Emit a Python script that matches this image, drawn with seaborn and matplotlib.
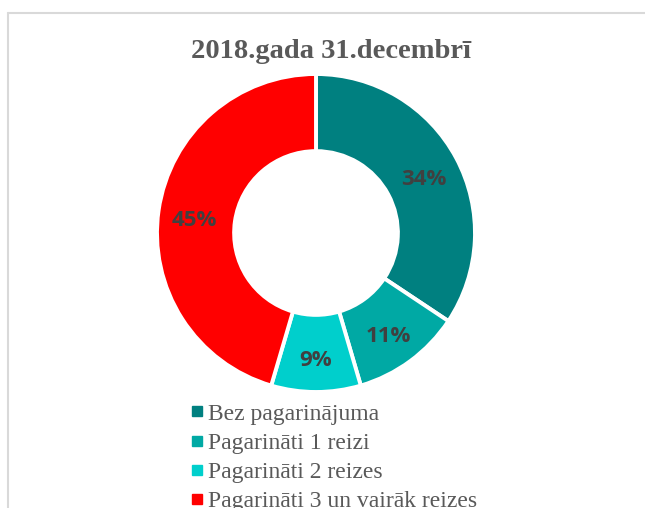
import numpy as np
import matplotlib
matplotlib.use("Agg")
import matplotlib.pyplot as plt
from matplotlib.lines import Line2D
import seaborn as sns

# Loan extension breakdown as of 31 December 2018
categories = [
    "Bez pagarinājuma",
    "Pagarināti 1 reizi",
    "Pagarināti 2 reizes",
    "Pagarināti 3 un vairāk reizes",
]
shares = [34, 11, 9, 45]
colors = ["#008080", "#00A9A4", "#00CFCC", "#FF0000"]
title = "2018.gada 31.decembrī"

sns.set_theme(style="white")
plt.rcParams["font.family"] = ["DejaVu Sans"]

W, H = 645, 508
fig = plt.figure(figsize=(W / 100, H / 100), dpi=100)
fig.patch.set_facecolor("white")

# chart frame (top and left edges visible)
frame_x = 8 / W
frame_y = 1 - 13 / H
fig.add_artist(Line2D([frame_x, 1.0], [frame_y, frame_y], transform=fig.transFigure,
                      color="#D9D9D9", lw=1.5))
fig.add_artist(Line2D([frame_x, frame_x], [0, frame_y], transform=fig.transFigure,
                      color="#D9D9D9", lw=1.5))

# donut axes: centre (316, 233), radius ~159 px
cx, cy, r = 316, 233, 159
ax = fig.add_axes([(cx - r) / W, 1 - (cy + r) / H, 2 * r / W, 2 * r / H])
inner = 0.515
wedges, _ = ax.pie(
    shares,
    colors=colors,
    startangle=90,
    counterclock=False,
    radius=1.0,
    wedgeprops=dict(width=1 - inner, edgecolor="white", linewidth=2.8),
)
ax.set_xlim(-1, 1)
ax.set_ylim(-1, 1)
ax.set_aspect("equal")
ax.axis("off")

# percentage labels in the middle of each ring segment
mid_r = (1 + inner) / 2 + 0.015
drop = 5 / r
for w, v in zip(wedges, shares):
    ang = np.deg2rad((w.theta1 + w.theta2) / 2)
    ax.text(mid_r * np.cos(ang), mid_r * np.sin(ang) - drop, f"{v}%",
            ha="center", va="center", fontsize=16, fontweight="bold",
            color="#404040", family=["Open Sans", "DejaVu Sans"])

fig.text(331 / W, 1 - 52 / H, title, ha="center", va="center",
         fontsize=20.5, fontweight="bold", color="#595959",
         family=["Liberation Serif", "DejaVu Serif"])

handles = [Line2D([0], [0], marker="s", linestyle="none", markersize=6.5,
                  markerfacecolor=c, markeredgecolor=c) for c in colors]
leg = fig.legend(handles, categories, loc="upper left",
                 bbox_to_anchor=(191 / W, 1 - 403 / H),
                 frameon=False, handlelength=0.5, handletextpad=0.2,
                 labelspacing=0.33, borderaxespad=0, borderpad=0,
                 prop={"family": ["Liberation Serif", "DejaVu Serif"], "size": 17})
for t in leg.get_texts():
    t.set_color("#595959")

fig.savefig("out.png", dpi=100, facecolor="white")
